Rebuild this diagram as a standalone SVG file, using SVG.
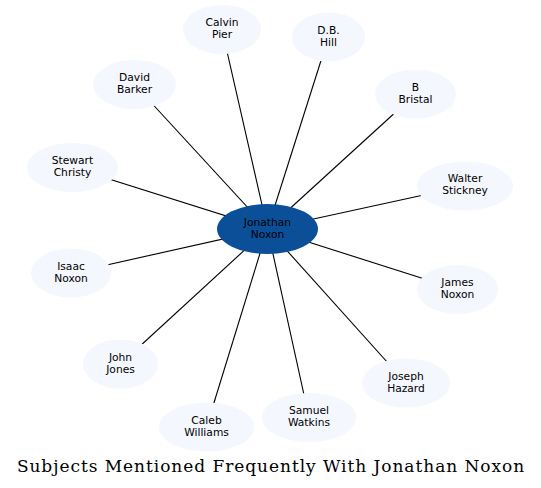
<svg xmlns="http://www.w3.org/2000/svg" width="541" height="488" viewBox="0 0 541 488">
<style>
.n ellipse{fill:#f4f7fd;stroke:none}
.c ellipse{fill:#0b4f99;stroke:none}
text{font-family:"DejaVu Sans",sans-serif;font-size:10.7px;text-anchor:middle;fill:#000}
.e line{stroke:#000;stroke-width:1.1}
.t{font-family:"DejaVu Serif","Liberation Serif",serif;font-size:17px;letter-spacing:0.95px}
</style>
<rect width="541" height="488" fill="#fff"/>
<g id="edges" class="e">
<line x1="267.5" y1="229" x2="222" y2="29.5"/>
<line x1="267.5" y1="229" x2="328.5" y2="37"/>
<line x1="267.5" y1="229" x2="415.5" y2="94"/>
<line x1="267.5" y1="229" x2="465" y2="186"/>
<line x1="267.5" y1="229" x2="457.5" y2="289.5"/>
<line x1="267.5" y1="229" x2="406" y2="383"/>
<line x1="267.5" y1="229" x2="309" y2="417.5"/>
<line x1="267.5" y1="229" x2="206.5" y2="427"/>
<line x1="267.5" y1="229" x2="120.5" y2="364"/>
<line x1="267.5" y1="229" x2="71" y2="273"/>
<line x1="267.5" y1="229" x2="72.5" y2="167.5"/>
<line x1="267.5" y1="229" x2="134.5" y2="84.5"/>
</g>
<g id="calvin" class="n"><ellipse cx="222" cy="29.5" rx="39" ry="24.5"/><text x="222" y="26">Calvin</text><text x="222" y="38">Pier</text></g>
<g id="dbhill" class="n"><ellipse cx="328.5" cy="37" rx="36.5" ry="24.5"/><text x="328.5" y="34">D.B.</text><text x="328.5" y="46">Hill</text></g>
<g id="bristal" class="n"><ellipse cx="415.5" cy="94" rx="40.5" ry="24.5"/><text x="415.5" y="91">B</text><text x="415.5" y="103">Bristal</text></g>
<g id="stickney" class="n"><ellipse cx="465" cy="186" rx="48" ry="24.5"/><text x="465" y="182">Walter</text><text x="465" y="194">Stickney</text></g>
<g id="james" class="n"><ellipse cx="457.5" cy="289.5" rx="40.5" ry="24.5"/><text x="457.5" y="286">James</text><text x="457.5" y="298">Noxon</text></g>
<g id="hazard" class="n"><ellipse cx="406" cy="383" rx="44" ry="24.5"/><text x="406" y="380">Joseph</text><text x="406" y="392">Hazard</text></g>
<g id="watkins" class="n"><ellipse cx="309" cy="417.5" rx="47" ry="24.5"/><text x="309" y="414">Samuel</text><text x="309" y="426">Watkins</text></g>
<g id="caleb" class="n"><ellipse cx="206.5" cy="427" rx="47.5" ry="24.5"/><text x="206.5" y="424">Caleb</text><text x="206.5" y="436">Williams</text></g>
<g id="jones" class="n"><ellipse cx="120.5" cy="364" rx="37.5" ry="24.5"/><text x="120.5" y="361">John</text><text x="120.5" y="373">Jones</text></g>
<g id="isaac" class="n"><ellipse cx="71" cy="273" rx="40" ry="24.5"/><text x="71" y="270">Isaac</text><text x="71" y="282">Noxon</text></g>
<g id="christy" class="n"><ellipse cx="72.5" cy="167.5" rx="45.5" ry="24.5"/><text x="72.5" y="164">Stewart</text><text x="72.5" y="176">Christy</text></g>
<g id="barker" class="n"><ellipse cx="134.5" cy="84.5" rx="41.5" ry="24.5"/><text x="134.5" y="81">David</text><text x="134.5" y="93">Barker</text></g>
<g id="center" class="c"><ellipse cx="267.5" cy="229" rx="50.5" ry="25"/><text x="267.5" y="226" fill="#111">Jonathan</text><text x="267.5" y="238" fill="#111">Noxon</text></g>
<text class="t" x="271" y="472">Subjects Mentioned Frequently With Jonathan Noxon</text>
</svg>
